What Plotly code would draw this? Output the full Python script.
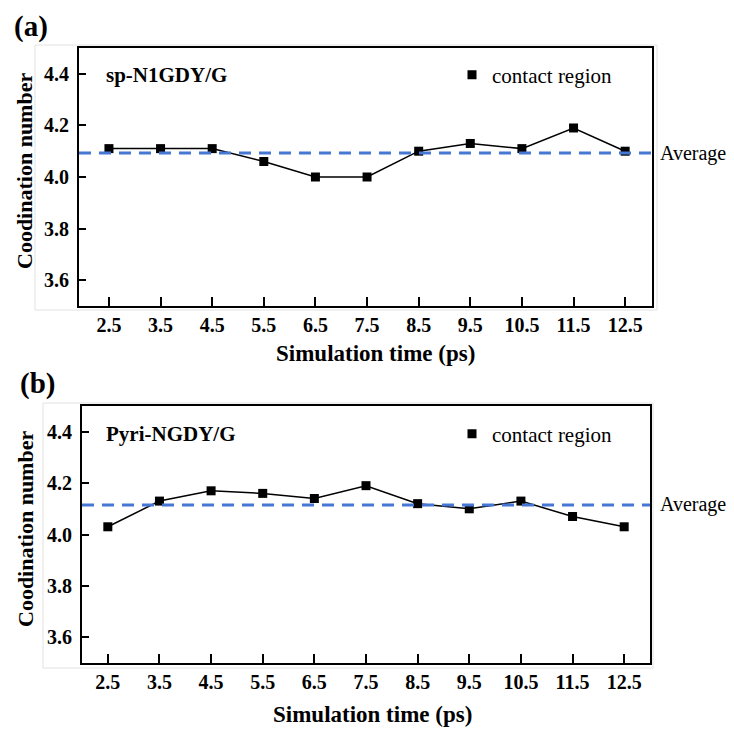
import plotly.graph_objects as go

# ---- data ----
times = [2.5, 3.5, 4.5, 5.5, 6.5, 7.5, 8.5, 9.5, 10.5, 11.5, 12.5]
time_labels = ["2.5", "3.5", "4.5", "5.5", "6.5", "7.5", "8.5", "9.5", "10.5", "11.5", "12.5"]
cn_sp_n1gdy = [4.11, 4.11, 4.11, 4.06, 4.00, 4.00, 4.10, 4.13, 4.11, 4.19, 4.10]
cn_pyri_ngdy = [4.03, 4.13, 4.17, 4.16, 4.14, 4.19, 4.12, 4.10, 4.13, 4.07, 4.03]
avg_sp = 4.093
avg_pyri = 4.115
y_ticks = [3.6, 3.8, 4.0, 4.2, 4.4]
y_tick_labels = ["3.6", "3.8", "4.0", "4.2", "4.4"]
panel_names = ["sp-N1GDY/G", "Pyri-NGDY/G"]
legend_name = "contact region"

W, H = 734, 729
FONT = "Liberation Serif, Times New Roman, serif"


def px(x):
    return x / W


def py(y):
    return 1 - y / H


fig = go.Figure()

marker = dict(symbol="square", size=9, color="black")
line = dict(color="black", width=1.5)

fig.add_trace(go.Scatter(x=times, y=cn_sp_n1gdy, mode="lines+markers", line=line,
                         marker=marker, showlegend=False, xaxis="x", yaxis="y"))
fig.add_trace(go.Scatter(x=[None], y=[None], mode="markers", marker=marker, name=legend_name,
                         showlegend=True, legend="legend", xaxis="x", yaxis="y"))
fig.add_trace(go.Scatter(x=times, y=cn_pyri_ngdy, mode="lines+markers", line=line,
                         marker=marker, showlegend=False, xaxis="x2", yaxis="y2"))
fig.add_trace(go.Scatter(x=[None], y=[None], mode="markers", marker=marker, name=legend_name,
                         showlegend=True, legend="legend2", xaxis="x2", yaxis="y2"))

tickfont = dict(family=FONT, size=20, color="black", weight="bold")


def xax(domain, rng, anchor):
    return dict(domain=domain, range=rng, anchor=anchor, tickmode="array", tickvals=times,
                ticktext=time_labels, ticks="inside", ticklen=9, tickwidth=1.5, tickcolor="black",
                showline=True, linecolor="black", linewidth=2, mirror=True, showgrid=False,
                zeroline=False, tickfont=tickfont, ticklabelstandoff=0)


def yax(domain, anchor):
    return dict(domain=domain, range=[3.5, 4.5], anchor=anchor, tickmode="array", tickvals=y_ticks,
                ticktext=y_tick_labels, ticks="inside", ticklen=7, tickwidth=1.5, tickcolor="black",
                showline=True, linecolor="black", linewidth=2, mirror=True, showgrid=False,
                zeroline=False, tickfont=tickfont, ticklabelstandoff=4)


legend_font = dict(family=FONT, size=21, color="black")

fig.update_layout(
    width=W, height=H,
    margin=dict(l=0, r=0, t=0, b=0),
    paper_bgcolor="white", plot_bgcolor="white",
    xaxis=xax([px(79), px(652)], [1.92, 13.02], "y"),
    yaxis=yax([py(306), py(48)], "x"),
    xaxis2=xax([px(82), px(650)], [2.0, 13.0], "y2"),
    yaxis2=yax([py(663), py(406)], "x2"),
    legend=dict(x=px(452), y=py(75), xanchor="left", yanchor="middle", font=legend_font,
                bgcolor="rgba(0,0,0,0)"),
    legend2=dict(x=px(452), y=py(434), xanchor="left", yanchor="middle", font=legend_font,
                 bgcolor="rgba(0,0,0,0)"),
)

dash_line = dict(color="#4677d3", width=3, dash="12px,8px")
shapes = [
    dict(type="rect", xref="paper", yref="paper", x0=px(35), x1=px(657), y0=py(310), y1=py(45),
         line=dict(color="#e2e2e2", width=1), layer="below"),
    dict(type="rect", xref="paper", yref="paper", x0=px(43), x1=px(653), y0=py(668), y1=py(403),
         line=dict(color="#e2e2e2", width=1), layer="below"),
    dict(type="line", xref="x domain", yref="y", x0=0, x1=1, y0=avg_sp, y1=avg_sp, line=dash_line),
    dict(type="line", xref="x2 domain", yref="y2", x0=0, x1=1, y0=avg_pyri, y1=avg_pyri, line=dash_line),
]
fig.update_layout(shapes=shapes)

bold = dict(family=FONT, color="black", weight="bold")
ann = []
ann.append(dict(text="(a)", x=px(12), y=py(27), xref="paper", yref="paper", xanchor="left",
                yanchor="middle", showarrow=False, font=dict(bold, size=29)))
ann.append(dict(text="(b)", x=px(18), y=py(383), xref="paper", yref="paper", xanchor="left",
                yanchor="middle", showarrow=False, font=dict(bold, size=29)))
ann.append(dict(text=panel_names[0], x=px(104), y=py(75), xref="paper", yref="paper", xanchor="left",
                yanchor="middle", showarrow=False, font=dict(bold, size=21)))
ann.append(dict(text=panel_names[1], x=px(104), y=py(434), xref="paper", yref="paper", xanchor="left",
                yanchor="middle", showarrow=False, font=dict(bold, size=21)))
for yref, avg in (("y", avg_sp), ("y2", avg_pyri)):
    ann.append(dict(text="Average", x=px(658), y=avg, xref="paper", yref=yref, xanchor="left",
                    yanchor="middle", showarrow=False,
                    font=dict(family=FONT, size=20, color="black")))
ann.append(dict(text="Simulation time (ps)", x=px(375), y=py(353), xref="paper", yref="paper",
                xanchor="center", yanchor="middle", showarrow=False, font=dict(bold, size=23)))
ann.append(dict(text="Simulation time (ps)", x=px(372), y=py(714), xref="paper", yref="paper",
                xanchor="center", yanchor="middle", showarrow=False, font=dict(bold, size=23)))
ann.append(dict(text="Coodination number", x=px(25), y=py(171), xref="paper", yref="paper",
                xanchor="center", yanchor="middle", textangle=-90, showarrow=False,
                font=dict(bold, size=22)))
ann.append(dict(text="Coodination number", x=px(25), y=py(529), xref="paper", yref="paper",
                xanchor="center", yanchor="middle", textangle=-90, showarrow=False,
                font=dict(bold, size=22)))
fig.update_layout(annotations=ann)

fig.write_html("out.html", config={"displayModeBar": False},
               post_script="document.body.style.margin='0px';document.body.style.padding='0px';")
